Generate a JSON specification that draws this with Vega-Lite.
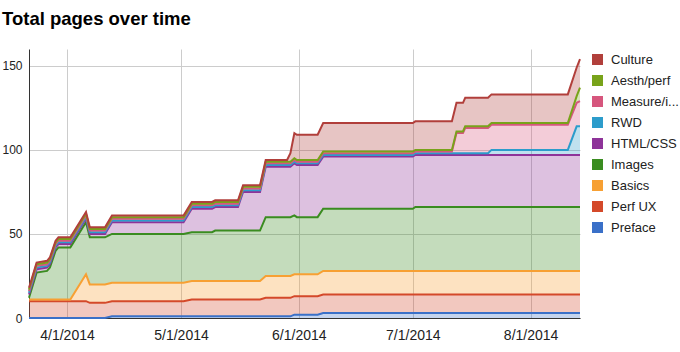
{
  "$schema": "https://vega.github.io/schema/vega-lite/v6.json",
  "autosize": {"type": "none"},
  "width": 551,
  "height": 269,
  "padding": {"left": 29, "top": 49, "right": 100, "bottom": 34},
  "background": "#ffffff",
  "config": {"font": "Liberation Sans", "view": {"stroke": null}},
  "title": {"text": "Total pages over time", "anchor": "start", "frame": "group", "fontSize": 18.5, "fontWeight": "bold", "color": "#000000", "dx": -27, "baseline": "alphabetic", "offset": 6},
  "data": {"values": [
{"date":"2014-03-22T00:00","section":"Preface","ch":0,"pages":0},{"date":"2014-03-22T00:00","section":"Perf UX","ch":1,"pages":10},{"date":"2014-03-22T00:00","section":"Basics","ch":2,"pages":1},{"date":"2014-03-22T00:00","section":"Images","ch":3,"pages":1},{"date":"2014-03-22T00:00","section":"HTML/CSS","ch":4,"pages":2},{"date":"2014-03-22T00:00","section":"RWD","ch":5,"pages":1},{"date":"2014-03-22T00:00","section":"Measure/i...","ch":6,"pages":1},{"date":"2014-03-22T00:00","section":"Aesth/perf","ch":7,"pages":1},{"date":"2014-03-22T00:00","section":"Culture","ch":8,"pages":1},
{"date":"2014-03-24T00:00","section":"Preface","ch":0,"pages":0},{"date":"2014-03-24T00:00","section":"Perf UX","ch":1,"pages":10},{"date":"2014-03-24T00:00","section":"Basics","ch":2,"pages":1},{"date":"2014-03-24T00:00","section":"Images","ch":3,"pages":16},{"date":"2014-03-24T00:00","section":"HTML/CSS","ch":4,"pages":2},{"date":"2014-03-24T00:00","section":"RWD","ch":5,"pages":1},{"date":"2014-03-24T00:00","section":"Measure/i...","ch":6,"pages":1},{"date":"2014-03-24T00:00","section":"Aesth/perf","ch":7,"pages":1},{"date":"2014-03-24T00:00","section":"Culture","ch":8,"pages":1},
{"date":"2014-03-26T18:00","section":"Preface","ch":0,"pages":0},{"date":"2014-03-26T18:00","section":"Perf UX","ch":1,"pages":10},{"date":"2014-03-26T18:00","section":"Basics","ch":2,"pages":1},{"date":"2014-03-26T18:00","section":"Images","ch":3,"pages":17},{"date":"2014-03-26T18:00","section":"HTML/CSS","ch":4,"pages":2},{"date":"2014-03-26T18:00","section":"RWD","ch":5,"pages":1},{"date":"2014-03-26T18:00","section":"Measure/i...","ch":6,"pages":1},{"date":"2014-03-26T18:00","section":"Aesth/perf","ch":7,"pages":1},{"date":"2014-03-26T18:00","section":"Culture","ch":8,"pages":1},
{"date":"2014-03-27T12:00","section":"Preface","ch":0,"pages":0},{"date":"2014-03-27T12:00","section":"Perf UX","ch":1,"pages":10},{"date":"2014-03-27T12:00","section":"Basics","ch":2,"pages":1},{"date":"2014-03-27T12:00","section":"Images","ch":3,"pages":19},{"date":"2014-03-27T12:00","section":"HTML/CSS","ch":4,"pages":2},{"date":"2014-03-27T12:00","section":"RWD","ch":5,"pages":1},{"date":"2014-03-27T12:00","section":"Measure/i...","ch":6,"pages":1},{"date":"2014-03-27T12:00","section":"Aesth/perf","ch":7,"pages":1},{"date":"2014-03-27T12:00","section":"Culture","ch":8,"pages":1},
{"date":"2014-03-29T00:00","section":"Preface","ch":0,"pages":0},{"date":"2014-03-29T00:00","section":"Perf UX","ch":1,"pages":10},{"date":"2014-03-29T00:00","section":"Basics","ch":2,"pages":1},{"date":"2014-03-29T00:00","section":"Images","ch":3,"pages":29},{"date":"2014-03-29T00:00","section":"HTML/CSS","ch":4,"pages":2},{"date":"2014-03-29T00:00","section":"RWD","ch":5,"pages":1},{"date":"2014-03-29T00:00","section":"Measure/i...","ch":6,"pages":1},{"date":"2014-03-29T00:00","section":"Aesth/perf","ch":7,"pages":1},{"date":"2014-03-29T00:00","section":"Culture","ch":8,"pages":1},
{"date":"2014-03-29T18:00","section":"Preface","ch":0,"pages":0},{"date":"2014-03-29T18:00","section":"Perf UX","ch":1,"pages":10},{"date":"2014-03-29T18:00","section":"Basics","ch":2,"pages":1},{"date":"2014-03-29T18:00","section":"Images","ch":3,"pages":31},{"date":"2014-03-29T18:00","section":"HTML/CSS","ch":4,"pages":2},{"date":"2014-03-29T18:00","section":"RWD","ch":5,"pages":1},{"date":"2014-03-29T18:00","section":"Measure/i...","ch":6,"pages":1},{"date":"2014-03-29T18:00","section":"Aesth/perf","ch":7,"pages":1},{"date":"2014-03-29T18:00","section":"Culture","ch":8,"pages":1},
{"date":"2014-04-01T21:00","section":"Preface","ch":0,"pages":0},{"date":"2014-04-01T21:00","section":"Perf UX","ch":1,"pages":10},{"date":"2014-04-01T21:00","section":"Basics","ch":2,"pages":1},{"date":"2014-04-01T21:00","section":"Images","ch":3,"pages":31},{"date":"2014-04-01T21:00","section":"HTML/CSS","ch":4,"pages":2},{"date":"2014-04-01T21:00","section":"RWD","ch":5,"pages":1},{"date":"2014-04-01T21:00","section":"Measure/i...","ch":6,"pages":1},{"date":"2014-04-01T21:00","section":"Aesth/perf","ch":7,"pages":1},{"date":"2014-04-01T21:00","section":"Culture","ch":8,"pages":1},
{"date":"2014-04-06T00:00","section":"Preface","ch":0,"pages":0},{"date":"2014-04-06T00:00","section":"Perf UX","ch":1,"pages":10},{"date":"2014-04-06T00:00","section":"Basics","ch":2,"pages":16},{"date":"2014-04-06T00:00","section":"Images","ch":3,"pages":31},{"date":"2014-04-06T00:00","section":"HTML/CSS","ch":4,"pages":2},{"date":"2014-04-06T00:00","section":"RWD","ch":5,"pages":1},{"date":"2014-04-06T00:00","section":"Measure/i...","ch":6,"pages":1},{"date":"2014-04-06T00:00","section":"Aesth/perf","ch":7,"pages":1},{"date":"2014-04-06T00:00","section":"Culture","ch":8,"pages":1},
{"date":"2014-04-07T00:00","section":"Preface","ch":0,"pages":0},{"date":"2014-04-07T00:00","section":"Perf UX","ch":1,"pages":9},{"date":"2014-04-07T00:00","section":"Basics","ch":2,"pages":11},{"date":"2014-04-07T00:00","section":"Images","ch":3,"pages":28},{"date":"2014-04-07T00:00","section":"HTML/CSS","ch":4,"pages":2},{"date":"2014-04-07T00:00","section":"RWD","ch":5,"pages":1},{"date":"2014-04-07T00:00","section":"Measure/i...","ch":6,"pages":1},{"date":"2014-04-07T00:00","section":"Aesth/perf","ch":7,"pages":1},{"date":"2014-04-07T00:00","section":"Culture","ch":8,"pages":1},
{"date":"2014-04-11T00:00","section":"Preface","ch":0,"pages":0},{"date":"2014-04-11T00:00","section":"Perf UX","ch":1,"pages":9},{"date":"2014-04-11T00:00","section":"Basics","ch":2,"pages":11},{"date":"2014-04-11T00:00","section":"Images","ch":3,"pages":28},{"date":"2014-04-11T00:00","section":"HTML/CSS","ch":4,"pages":2},{"date":"2014-04-11T00:00","section":"RWD","ch":5,"pages":1},{"date":"2014-04-11T00:00","section":"Measure/i...","ch":6,"pages":1},{"date":"2014-04-11T00:00","section":"Aesth/perf","ch":7,"pages":1},{"date":"2014-04-11T00:00","section":"Culture","ch":8,"pages":1},
{"date":"2014-04-12T20:00","section":"Preface","ch":0,"pages":1},{"date":"2014-04-12T20:00","section":"Perf UX","ch":1,"pages":9},{"date":"2014-04-12T20:00","section":"Basics","ch":2,"pages":11},{"date":"2014-04-12T20:00","section":"Images","ch":3,"pages":29},{"date":"2014-04-12T20:00","section":"HTML/CSS","ch":4,"pages":7},{"date":"2014-04-12T20:00","section":"RWD","ch":5,"pages":1},{"date":"2014-04-12T20:00","section":"Measure/i...","ch":6,"pages":1},{"date":"2014-04-12T20:00","section":"Aesth/perf","ch":7,"pages":1},{"date":"2014-04-12T20:00","section":"Culture","ch":8,"pages":1},
{"date":"2014-05-01T16:00","section":"Preface","ch":0,"pages":1},{"date":"2014-05-01T16:00","section":"Perf UX","ch":1,"pages":9},{"date":"2014-05-01T16:00","section":"Basics","ch":2,"pages":11},{"date":"2014-05-01T16:00","section":"Images","ch":3,"pages":29},{"date":"2014-05-01T16:00","section":"HTML/CSS","ch":4,"pages":7},{"date":"2014-05-01T16:00","section":"RWD","ch":5,"pages":1},{"date":"2014-05-01T16:00","section":"Measure/i...","ch":6,"pages":1},{"date":"2014-05-01T16:00","section":"Aesth/perf","ch":7,"pages":1},{"date":"2014-05-01T16:00","section":"Culture","ch":8,"pages":1},
{"date":"2014-05-03T20:00","section":"Preface","ch":0,"pages":1},{"date":"2014-05-03T20:00","section":"Perf UX","ch":1,"pages":10},{"date":"2014-05-03T20:00","section":"Basics","ch":2,"pages":11},{"date":"2014-05-03T20:00","section":"Images","ch":3,"pages":29},{"date":"2014-05-03T20:00","section":"HTML/CSS","ch":4,"pages":14},{"date":"2014-05-03T20:00","section":"RWD","ch":5,"pages":1},{"date":"2014-05-03T20:00","section":"Measure/i...","ch":6,"pages":1},{"date":"2014-05-03T20:00","section":"Aesth/perf","ch":7,"pages":1},{"date":"2014-05-03T20:00","section":"Culture","ch":8,"pages":1},
{"date":"2014-05-09T04:00","section":"Preface","ch":0,"pages":1},{"date":"2014-05-09T04:00","section":"Perf UX","ch":1,"pages":10},{"date":"2014-05-09T04:00","section":"Basics","ch":2,"pages":11},{"date":"2014-05-09T04:00","section":"Images","ch":3,"pages":29},{"date":"2014-05-09T04:00","section":"HTML/CSS","ch":4,"pages":14},{"date":"2014-05-09T04:00","section":"RWD","ch":5,"pages":1},{"date":"2014-05-09T04:00","section":"Measure/i...","ch":6,"pages":1},{"date":"2014-05-09T04:00","section":"Aesth/perf","ch":7,"pages":1},{"date":"2014-05-09T04:00","section":"Culture","ch":8,"pages":1},
{"date":"2014-05-10T00:00","section":"Preface","ch":0,"pages":1},{"date":"2014-05-10T00:00","section":"Perf UX","ch":1,"pages":10},{"date":"2014-05-10T00:00","section":"Basics","ch":2,"pages":11},{"date":"2014-05-10T00:00","section":"Images","ch":3,"pages":30},{"date":"2014-05-10T00:00","section":"HTML/CSS","ch":4,"pages":14},{"date":"2014-05-10T00:00","section":"RWD","ch":5,"pages":1},{"date":"2014-05-10T00:00","section":"Measure/i...","ch":6,"pages":1},{"date":"2014-05-10T00:00","section":"Aesth/perf","ch":7,"pages":1},{"date":"2014-05-10T00:00","section":"Culture","ch":8,"pages":1},
{"date":"2014-05-16T00:00","section":"Preface","ch":0,"pages":1},{"date":"2014-05-16T00:00","section":"Perf UX","ch":1,"pages":10},{"date":"2014-05-16T00:00","section":"Basics","ch":2,"pages":11},{"date":"2014-05-16T00:00","section":"Images","ch":3,"pages":30},{"date":"2014-05-16T00:00","section":"HTML/CSS","ch":4,"pages":14},{"date":"2014-05-16T00:00","section":"RWD","ch":5,"pages":1},{"date":"2014-05-16T00:00","section":"Measure/i...","ch":6,"pages":1},{"date":"2014-05-16T00:00","section":"Aesth/perf","ch":7,"pages":1},{"date":"2014-05-16T00:00","section":"Culture","ch":8,"pages":1},
{"date":"2014-05-17T08:00","section":"Preface","ch":0,"pages":1},{"date":"2014-05-17T08:00","section":"Perf UX","ch":1,"pages":10},{"date":"2014-05-17T08:00","section":"Basics","ch":2,"pages":11},{"date":"2014-05-17T08:00","section":"Images","ch":3,"pages":30},{"date":"2014-05-17T08:00","section":"HTML/CSS","ch":4,"pages":23},{"date":"2014-05-17T08:00","section":"RWD","ch":5,"pages":1},{"date":"2014-05-17T08:00","section":"Measure/i...","ch":6,"pages":1},{"date":"2014-05-17T08:00","section":"Aesth/perf","ch":7,"pages":1},{"date":"2014-05-17T08:00","section":"Culture","ch":8,"pages":1},
{"date":"2014-05-21T19:00","section":"Preface","ch":0,"pages":1},{"date":"2014-05-21T19:00","section":"Perf UX","ch":1,"pages":10},{"date":"2014-05-21T19:00","section":"Basics","ch":2,"pages":11},{"date":"2014-05-21T19:00","section":"Images","ch":3,"pages":30},{"date":"2014-05-21T19:00","section":"HTML/CSS","ch":4,"pages":23},{"date":"2014-05-21T19:00","section":"RWD","ch":5,"pages":1},{"date":"2014-05-21T19:00","section":"Measure/i...","ch":6,"pages":1},{"date":"2014-05-21T19:00","section":"Aesth/perf","ch":7,"pages":1},{"date":"2014-05-21T19:00","section":"Culture","ch":8,"pages":1},
{"date":"2014-05-23T07:00","section":"Preface","ch":0,"pages":1},{"date":"2014-05-23T07:00","section":"Perf UX","ch":1,"pages":11},{"date":"2014-05-23T07:00","section":"Basics","ch":2,"pages":13},{"date":"2014-05-23T07:00","section":"Images","ch":3,"pages":35},{"date":"2014-05-23T07:00","section":"HTML/CSS","ch":4,"pages":30},{"date":"2014-05-23T07:00","section":"RWD","ch":5,"pages":1},{"date":"2014-05-23T07:00","section":"Measure/i...","ch":6,"pages":1},{"date":"2014-05-23T07:00","section":"Aesth/perf","ch":7,"pages":1},{"date":"2014-05-23T07:00","section":"Culture","ch":8,"pages":1},
{"date":"2014-05-28T22:00","section":"Preface","ch":0,"pages":1},{"date":"2014-05-28T22:00","section":"Perf UX","ch":1,"pages":11},{"date":"2014-05-28T22:00","section":"Basics","ch":2,"pages":13},{"date":"2014-05-28T22:00","section":"Images","ch":3,"pages":35},{"date":"2014-05-28T22:00","section":"HTML/CSS","ch":4,"pages":30},{"date":"2014-05-28T22:00","section":"RWD","ch":5,"pages":1},{"date":"2014-05-28T22:00","section":"Measure/i...","ch":6,"pages":1},{"date":"2014-05-28T22:00","section":"Aesth/perf","ch":7,"pages":1},{"date":"2014-05-28T22:00","section":"Culture","ch":8,"pages":1},
{"date":"2014-05-29T19:00","section":"Preface","ch":0,"pages":1},{"date":"2014-05-29T19:00","section":"Perf UX","ch":1,"pages":11},{"date":"2014-05-29T19:00","section":"Basics","ch":2,"pages":13},{"date":"2014-05-29T19:00","section":"Images","ch":3,"pages":35},{"date":"2014-05-29T19:00","section":"HTML/CSS","ch":4,"pages":30},{"date":"2014-05-29T19:00","section":"RWD","ch":5,"pages":1},{"date":"2014-05-29T19:00","section":"Measure/i...","ch":6,"pages":1},{"date":"2014-05-29T19:00","section":"Aesth/perf","ch":7,"pages":1},{"date":"2014-05-29T19:00","section":"Culture","ch":8,"pages":5},
{"date":"2014-05-30T20:00","section":"Preface","ch":0,"pages":2},{"date":"2014-05-30T20:00","section":"Perf UX","ch":1,"pages":11},{"date":"2014-05-30T20:00","section":"Basics","ch":2,"pages":13},{"date":"2014-05-30T20:00","section":"Images","ch":3,"pages":35},{"date":"2014-05-30T20:00","section":"HTML/CSS","ch":4,"pages":31},{"date":"2014-05-30T20:00","section":"RWD","ch":5,"pages":1},{"date":"2014-05-30T20:00","section":"Measure/i...","ch":6,"pages":1},{"date":"2014-05-30T20:00","section":"Aesth/perf","ch":7,"pages":1},{"date":"2014-05-30T20:00","section":"Culture","ch":8,"pages":15},
{"date":"2014-05-31T12:00","section":"Preface","ch":0,"pages":2},{"date":"2014-05-31T12:00","section":"Perf UX","ch":1,"pages":11},{"date":"2014-05-31T12:00","section":"Basics","ch":2,"pages":13},{"date":"2014-05-31T12:00","section":"Images","ch":3,"pages":34},{"date":"2014-05-31T12:00","section":"HTML/CSS","ch":4,"pages":31},{"date":"2014-05-31T12:00","section":"RWD","ch":5,"pages":1},{"date":"2014-05-31T12:00","section":"Measure/i...","ch":6,"pages":1},{"date":"2014-05-31T12:00","section":"Aesth/perf","ch":7,"pages":1},{"date":"2014-05-31T12:00","section":"Culture","ch":8,"pages":15},
{"date":"2014-06-05T23:00","section":"Preface","ch":0,"pages":2},{"date":"2014-06-05T23:00","section":"Perf UX","ch":1,"pages":11},{"date":"2014-06-05T23:00","section":"Basics","ch":2,"pages":13},{"date":"2014-06-05T23:00","section":"Images","ch":3,"pages":34},{"date":"2014-06-05T23:00","section":"HTML/CSS","ch":4,"pages":31},{"date":"2014-06-05T23:00","section":"RWD","ch":5,"pages":1},{"date":"2014-06-05T23:00","section":"Measure/i...","ch":6,"pages":1},{"date":"2014-06-05T23:00","section":"Aesth/perf","ch":7,"pages":1},{"date":"2014-06-05T23:00","section":"Culture","ch":8,"pages":15},
{"date":"2014-06-07T10:00","section":"Preface","ch":0,"pages":3},{"date":"2014-06-07T10:00","section":"Perf UX","ch":1,"pages":11},{"date":"2014-06-07T10:00","section":"Basics","ch":2,"pages":14},{"date":"2014-06-07T10:00","section":"Images","ch":3,"pages":37},{"date":"2014-06-07T10:00","section":"HTML/CSS","ch":4,"pages":31},{"date":"2014-06-07T10:00","section":"RWD","ch":5,"pages":1},{"date":"2014-06-07T10:00","section":"Measure/i...","ch":6,"pages":1},{"date":"2014-06-07T10:00","section":"Aesth/perf","ch":7,"pages":1},{"date":"2014-06-07T10:00","section":"Culture","ch":8,"pages":17},
{"date":"2014-07-01T00:00","section":"Preface","ch":0,"pages":3},{"date":"2014-07-01T00:00","section":"Perf UX","ch":1,"pages":11},{"date":"2014-07-01T00:00","section":"Basics","ch":2,"pages":14},{"date":"2014-07-01T00:00","section":"Images","ch":3,"pages":37},{"date":"2014-07-01T00:00","section":"HTML/CSS","ch":4,"pages":31},{"date":"2014-07-01T00:00","section":"RWD","ch":5,"pages":1},{"date":"2014-07-01T00:00","section":"Measure/i...","ch":6,"pages":1},{"date":"2014-07-01T00:00","section":"Aesth/perf","ch":7,"pages":1},{"date":"2014-07-01T00:00","section":"Culture","ch":8,"pages":17},
{"date":"2014-07-01T16:00","section":"Preface","ch":0,"pages":3},{"date":"2014-07-01T16:00","section":"Perf UX","ch":1,"pages":11},{"date":"2014-07-01T16:00","section":"Basics","ch":2,"pages":14},{"date":"2014-07-01T16:00","section":"Images","ch":3,"pages":38},{"date":"2014-07-01T16:00","section":"HTML/CSS","ch":4,"pages":31},{"date":"2014-07-01T16:00","section":"RWD","ch":5,"pages":1},{"date":"2014-07-01T16:00","section":"Measure/i...","ch":6,"pages":1},{"date":"2014-07-01T16:00","section":"Aesth/perf","ch":7,"pages":1},{"date":"2014-07-01T16:00","section":"Culture","ch":8,"pages":17},
{"date":"2014-07-11T07:00","section":"Preface","ch":0,"pages":3},{"date":"2014-07-11T07:00","section":"Perf UX","ch":1,"pages":11},{"date":"2014-07-11T07:00","section":"Basics","ch":2,"pages":14},{"date":"2014-07-11T07:00","section":"Images","ch":3,"pages":38},{"date":"2014-07-11T07:00","section":"HTML/CSS","ch":4,"pages":31},{"date":"2014-07-11T07:00","section":"RWD","ch":5,"pages":1},{"date":"2014-07-11T07:00","section":"Measure/i...","ch":6,"pages":1},{"date":"2014-07-11T07:00","section":"Aesth/perf","ch":7,"pages":1},{"date":"2014-07-11T07:00","section":"Culture","ch":8,"pages":17},
{"date":"2014-07-12T12:00","section":"Preface","ch":0,"pages":3},{"date":"2014-07-12T12:00","section":"Perf UX","ch":1,"pages":11},{"date":"2014-07-12T12:00","section":"Basics","ch":2,"pages":14},{"date":"2014-07-12T12:00","section":"Images","ch":3,"pages":38},{"date":"2014-07-12T12:00","section":"HTML/CSS","ch":4,"pages":31},{"date":"2014-07-12T12:00","section":"RWD","ch":5,"pages":1},{"date":"2014-07-12T12:00","section":"Measure/i...","ch":6,"pages":12},{"date":"2014-07-12T12:00","section":"Aesth/perf","ch":7,"pages":1},{"date":"2014-07-12T12:00","section":"Culture","ch":8,"pages":17},
{"date":"2014-07-14T05:00","section":"Preface","ch":0,"pages":3},{"date":"2014-07-14T05:00","section":"Perf UX","ch":1,"pages":11},{"date":"2014-07-14T05:00","section":"Basics","ch":2,"pages":14},{"date":"2014-07-14T05:00","section":"Images","ch":3,"pages":38},{"date":"2014-07-14T05:00","section":"HTML/CSS","ch":4,"pages":31},{"date":"2014-07-14T05:00","section":"RWD","ch":5,"pages":1},{"date":"2014-07-14T05:00","section":"Measure/i...","ch":6,"pages":12},{"date":"2014-07-14T05:00","section":"Aesth/perf","ch":7,"pages":1},{"date":"2014-07-14T05:00","section":"Culture","ch":8,"pages":17},
{"date":"2014-07-14T19:00","section":"Preface","ch":0,"pages":3},{"date":"2014-07-14T19:00","section":"Perf UX","ch":1,"pages":11},{"date":"2014-07-14T19:00","section":"Basics","ch":2,"pages":14},{"date":"2014-07-14T19:00","section":"Images","ch":3,"pages":38},{"date":"2014-07-14T19:00","section":"HTML/CSS","ch":4,"pages":31},{"date":"2014-07-14T19:00","section":"RWD","ch":5,"pages":1},{"date":"2014-07-14T19:00","section":"Measure/i...","ch":6,"pages":15},{"date":"2014-07-14T19:00","section":"Aesth/perf","ch":7,"pages":1},{"date":"2014-07-14T19:00","section":"Culture","ch":8,"pages":17},
{"date":"2014-07-20T19:00","section":"Preface","ch":0,"pages":3},{"date":"2014-07-20T19:00","section":"Perf UX","ch":1,"pages":11},{"date":"2014-07-20T19:00","section":"Basics","ch":2,"pages":14},{"date":"2014-07-20T19:00","section":"Images","ch":3,"pages":38},{"date":"2014-07-20T19:00","section":"HTML/CSS","ch":4,"pages":31},{"date":"2014-07-20T19:00","section":"RWD","ch":5,"pages":1},{"date":"2014-07-20T19:00","section":"Measure/i...","ch":6,"pages":15},{"date":"2014-07-20T19:00","section":"Aesth/perf","ch":7,"pages":1},{"date":"2014-07-20T19:00","section":"Culture","ch":8,"pages":17},
{"date":"2014-07-21T17:00","section":"Preface","ch":0,"pages":3},{"date":"2014-07-21T17:00","section":"Perf UX","ch":1,"pages":11},{"date":"2014-07-21T17:00","section":"Basics","ch":2,"pages":14},{"date":"2014-07-21T17:00","section":"Images","ch":3,"pages":38},{"date":"2014-07-21T17:00","section":"HTML/CSS","ch":4,"pages":31},{"date":"2014-07-21T17:00","section":"RWD","ch":5,"pages":3},{"date":"2014-07-21T17:00","section":"Measure/i...","ch":6,"pages":15},{"date":"2014-07-21T17:00","section":"Aesth/perf","ch":7,"pages":1},{"date":"2014-07-21T17:00","section":"Culture","ch":8,"pages":17},
{"date":"2014-08-10T19:00","section":"Preface","ch":0,"pages":3},{"date":"2014-08-10T19:00","section":"Perf UX","ch":1,"pages":11},{"date":"2014-08-10T19:00","section":"Basics","ch":2,"pages":14},{"date":"2014-08-10T19:00","section":"Images","ch":3,"pages":38},{"date":"2014-08-10T19:00","section":"HTML/CSS","ch":4,"pages":31},{"date":"2014-08-10T19:00","section":"RWD","ch":5,"pages":3},{"date":"2014-08-10T19:00","section":"Measure/i...","ch":6,"pages":15},{"date":"2014-08-10T19:00","section":"Aesth/perf","ch":7,"pages":1},{"date":"2014-08-10T19:00","section":"Culture","ch":8,"pages":17},
{"date":"2014-08-13T03:00","section":"Preface","ch":0,"pages":3},{"date":"2014-08-13T03:00","section":"Perf UX","ch":1,"pages":11},{"date":"2014-08-13T03:00","section":"Basics","ch":2,"pages":14},{"date":"2014-08-13T03:00","section":"Images","ch":3,"pages":38},{"date":"2014-08-13T03:00","section":"HTML/CSS","ch":4,"pages":31},{"date":"2014-08-13T03:00","section":"RWD","ch":5,"pages":17},{"date":"2014-08-13T03:00","section":"Measure/i...","ch":6,"pages":14},{"date":"2014-08-13T03:00","section":"Aesth/perf","ch":7,"pages":4},{"date":"2014-08-13T03:00","section":"Culture","ch":8,"pages":17},
{"date":"2014-08-14T00:00","section":"Preface","ch":0,"pages":3},{"date":"2014-08-14T00:00","section":"Perf UX","ch":1,"pages":11},{"date":"2014-08-14T00:00","section":"Basics","ch":2,"pages":14},{"date":"2014-08-14T00:00","section":"Images","ch":3,"pages":38},{"date":"2014-08-14T00:00","section":"HTML/CSS","ch":4,"pages":31},{"date":"2014-08-14T00:00","section":"RWD","ch":5,"pages":17},{"date":"2014-08-14T00:00","section":"Measure/i...","ch":6,"pages":15},{"date":"2014-08-14T00:00","section":"Aesth/perf","ch":7,"pages":8},{"date":"2014-08-14T00:00","section":"Culture","ch":8,"pages":17}
  ]},
  "mark": {"type": "area", "opacity": 0.3, "line": {"strokeWidth": 2}},
  "encoding": {
    "x": {
      "field": "date", "type": "temporal",
      "scale": {"nice": false},
      "axis": {
        "title": null,
        "values": [{"year": 2014, "month": 4, "date": 1}, {"year": 2014, "month": 5, "date": 1}, {"year": 2014, "month": 6, "date": 1}, {"year": 2014, "month": 7, "date": 1}, {"year": 2014, "month": 8, "date": 1}],
        "format": "%-m/%-d/%Y",
        "labelFontSize": 14, "labelColor": "#222222", "labelPadding": 10,
        "labelFlush": false, "labelOverlap": false,
        "ticks": false, "domainColor": "#333333", "domainWidth": 1,
        "grid": true, "gridColor": "#cccccc", "gridWidth": 1
      }
    },
    "y": {
      "field": "pages", "type": "quantitative", "stack": "zero",
      "scale": {"domain": [0, 160], "nice": false},
      "axis": {
        "title": null, "values": [0, 50, 100, 150],
        "labelFontSize": 12, "labelColor": "#222222", "labelPadding": 7,
        "ticks": false, "domainColor": "#333333", "domainWidth": 1,
        "grid": true, "gridColor": "#cccccc", "gridWidth": 1
      }
    },
    "color": {
      "field": "section", "type": "nominal",
      "scale": {
        "domain": ["Culture", "Aesth/perf", "Measure/i...", "RWD", "HTML/CSS", "Images", "Basics", "Perf UX", "Preface"],
        "range": ["#b13f3b", "#78a31a", "#d6567d", "#2c9ccb", "#8e3399", "#3a8c20", "#f7a033", "#d4492a", "#3a70c8"]
      },
      "legend": {
        "title": null, "orient": "none", "legendX": 562, "legendY": 4,
        "direction": "vertical", "padding": 0,
        "symbolType": "square", "symbolSize": 121, "symbolStrokeWidth": 0, "symbolOpacity": 1,
        "labelFontSize": 13, "labelColor": "#222222", "labelOffset": 7, "rowPadding": 7, "labelLimit": 200,
        "encode": {"symbols": {"update": {"fill": {"scale": "color", "field": "value"}, "fillOpacity": {"value": 1}, "opacity": {"value": 1}, "strokeWidth": {"value": 0}}}}
      }
    },
    "order": {"field": "ch", "type": "quantitative", "sort": "ascending"}
  }
}
